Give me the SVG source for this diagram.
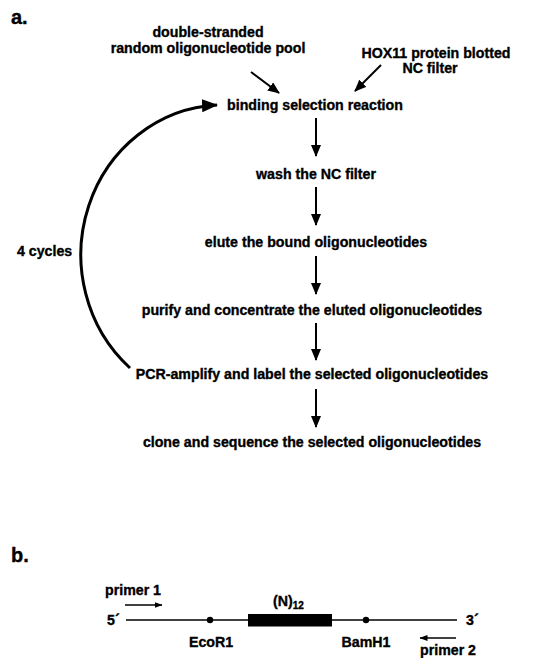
<svg xmlns="http://www.w3.org/2000/svg" width="538" height="658" viewBox="0 0 538 658">
<style>
  text { font-family: "Liberation Sans", Arial, sans-serif; font-weight: bold; font-size: 14.2px; fill: #000; stroke: #000; stroke-width: 0.35; }
  .c { text-anchor: middle; }
  .panel { font-size: 20px; }
  .arr { stroke: #000; stroke-width: 2; fill: none; marker-end: url(#ah); }
  .thin { stroke: #000; stroke-width: 1.4; fill: none; }
</style>
<defs>
  <marker id="ah" markerWidth="12" markerHeight="10" refX="11" refY="5" orient="auto" markerUnits="userSpaceOnUse">
    <path d="M0,0 L12,5 L0,10 z" fill="#000"/>
  </marker>
  <marker id="ahBig" markerWidth="16" markerHeight="13" refX="15" refY="6.5" orient="auto" markerUnits="userSpaceOnUse">
    <path d="M0,0 L16,6.5 L0,13 z" fill="#000"/>
  </marker>
  <marker id="ahSmall" markerWidth="8" markerHeight="6" refX="7.5" refY="3" orient="auto" markerUnits="userSpaceOnUse">
    <path d="M0,0 L8,3 L0,6 z" fill="#000"/>
  </marker>
</defs>
<rect width="538" height="658" fill="#fff"/>

<!-- panel a -->
<text class="panel" x="11" y="24">a.</text>

<g id="pool"><text class="c" x="208" y="37">double-stranded</text><text class="c" x="208" y="53">random oligonucleotide pool</text></g>
<g id="hox11"><text class="c" x="436" y="58" font-size="15">HOX11 protein blotted</text><text class="c" x="430" y="73">NC filter</text></g>
<g id="binding"><text class="c" x="315" y="110">binding selection reaction</text></g>
<g id="wash"><text class="c" x="316" y="179">wash the NC filter</text></g>
<g id="elute"><text class="c" x="316" y="247">elute the bound oligonucleotides</text></g>
<g id="purify"><text class="c" x="312" y="315">purify and concentrate the eluted oligonucleotides</text></g>
<g id="pcr"><text class="c" x="312" y="379">PCR-amplify and label the selected oligonucleotides</text></g>
<g id="clone"><text class="c" x="312" y="447">clone and sequence the selected oligonucleotides</text></g>
<g id="cycles"><text x="17" y="256">4 cycles</text></g>

<g id="connectors">
  <line class="arr" x1="251" y1="72" x2="279" y2="93"/>
  <line class="arr" x1="381" y1="65" x2="355" y2="91"/>
  <line class="arr" x1="316" y1="118" x2="316" y2="156"/>
  <line class="arr" x1="316" y1="187" x2="316" y2="225"/>
  <line class="arr" x1="316" y1="256" x2="316" y2="294"/>
  <line class="arr" x1="316" y1="323" x2="316" y2="360"/>
  <line class="arr" x1="316" y1="389" x2="316" y2="427"/>
  <path d="M130,368 A143,150 0 0 1 217,105" stroke="#000" stroke-width="3" fill="none" marker-end="url(#ahBig)"/>
</g>

<!-- panel b -->
<text class="panel" x="11" y="562">b.</text>
<g id="construct">
  <line class="thin" x1="126" y1="620" x2="457" y2="620"/>
  <rect x="248" y="614" width="84" height="12.5" fill="#000"/>
  <circle cx="210" cy="620" r="3.2" fill="#000"/>
  <circle cx="366" cy="620" r="3.2" fill="#000"/>
  <text x="107" y="625">5´</text>
  <text x="466" y="625">3´</text>
  <text x="273" y="606">(N)<tspan font-size="10" dy="3">12</tspan></text>
  <text class="c" x="211" y="647">EcoR1</text>
  <text class="c" x="366" y="647">BamH1</text>
</g>
<g id="primer1">
  <text x="105" y="595">primer 1</text>
  <line class="thin" x1="125" y1="605" x2="162" y2="605" marker-end="url(#ahSmall)"/>
</g>
<g id="primer2">
  <line class="thin" x1="456" y1="638" x2="420" y2="638" marker-end="url(#ahSmall)"/>
  <text x="420" y="655">primer 2</text>
</g>
</svg>
